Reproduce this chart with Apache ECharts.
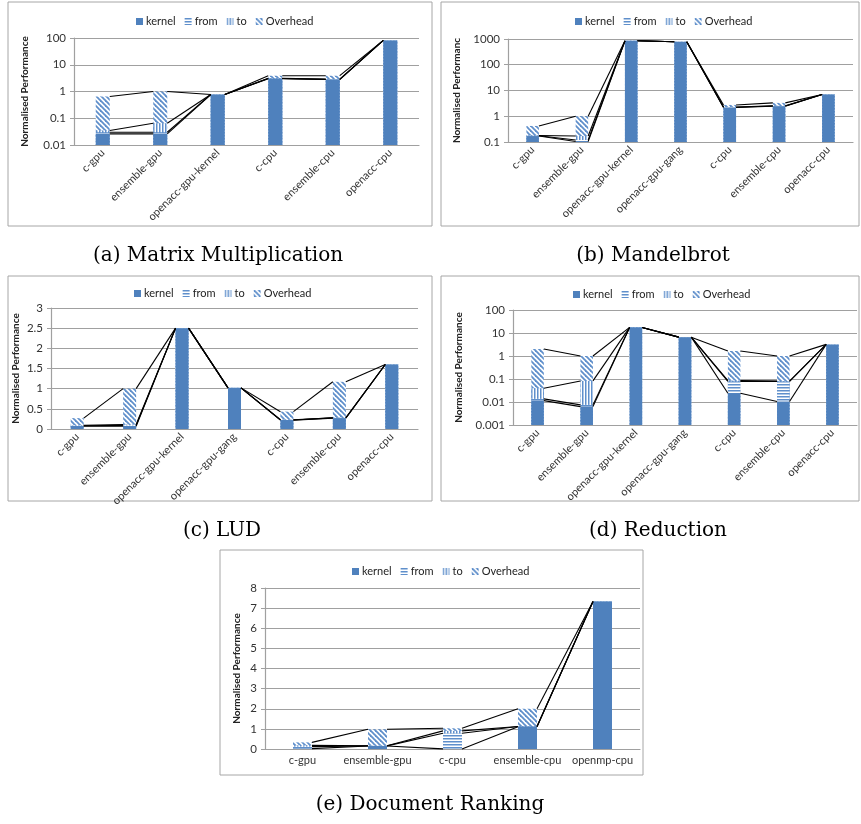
<!DOCTYPE html>
<html>
<head>
<meta charset="utf-8">
<script src="https://cdn.jsdelivr.net/npm/echarts@6/dist/echarts.min.js"></script>
<style>
  html, body { margin: 0; padding: 0; background: #fff; }
  #chart { width: 861px; height: 824px; }
</style>
</head>
<body>
<div id="chart"></div>
<script>
  // categories
  const catsA = ['c-gpu', 'ensemble-gpu', 'openacc-gpu-kernel', 'c-cpu', 'ensemble-cpu', 'openacc-cpu'];
  const catsB = ['c-gpu', 'ensemble-gpu', 'openacc-gpu-kernel', 'openacc-gpu-gang', 'c-cpu', 'ensemble-cpu', 'openacc-cpu'];
  const catsE = ['c-gpu', 'ensemble-gpu', 'c-cpu', 'ensemble-cpu', 'openmp-cpu'];
  const legendNames = ['kernel', 'from', 'to', 'Overhead'];

  // (a) Matrix Multiplication
  const kernelA = [0.026, 0.026, 0.77, 3.0, 2.8, 81];
  const fromA = [0.004, 0.004, 0, 0.05, 0.05, 0];
  const toA = [0.005, 0.035, 0, 0.05, 0.05, 0];
  const overheadA = [0.615, 0.935, 0, 0.8, 1.0, 0];

  // (b) Mandelbrot
  const kernelB = [0.17, 0.105, 850, 780, 2.2, 2.45, 7.0];
  const fromB = [0.005, 0.015, 0, 0, 0.05, 0.05, 0];
  const toB = [0.005, 0.05, 0, 0, 0.05, 0.05, 0];
  const overheadB = [0.24, 0.83, 0, 0, 0.45, 0.75, 0];

  // (c) LUD
  const kernelC = [0.07, 0.07, 2.5, 1.02, 0.22, 0.27, 1.6];
  const fromC = [0.01, 0.02, 0, 0, 0.005, 0.005, 0];
  const toC = [0.01, 0.02, 0, 0, 0.005, 0.005, 0];
  const overheadC = [0.18, 0.89, 0, 0, 0.2, 0.89, 0];

  // (d) Reduction
  const kernelD = [0.0115, 0.0063, 17.5, 6.6, 0.024, 0.0105, 3.2];
  const fromD = [0.0022, 0.0012, 0, 0, 0.055, 0.068, 0];
  const toD = [0.026, 0.075, 0, 0, 0.006, 0.002, 0];
  const overheadD = [1.96, 0.917, 0, 0, 1.565, 0.92, 0];

  // (e) Document Ranking
  const kernelE = [0.02, 0.15, 0.005, 1.11, 7.33];
  const fromE = [0.1, 0.005, 0.775, 0.005, 0];
  const toE = [0.06, 0.005, 0.12, 0.005, 0];
  const overheadE = [0.15, 0.82, 0.13, 0.88, 0];

  const BLUE = '#4F81BD';
  const STRIPE = '#5F8FCB';
  const FONT = 'Lato, "Open Sans", sans-serif';

  // 填充图案: 横线 / 竖线 / 斜线
  function pattern(kind) {
    const s = kind === 'diag' ? 5 : 3;
    const c = document.createElement('canvas');
    c.width = s; c.height = s;
    const g = c.getContext('2d');
    g.fillStyle = '#fff';
    g.fillRect(0, 0, s, s);
    g.fillStyle = STRIPE;
    g.strokeStyle = STRIPE;
    if (kind === 'h') g.fillRect(0, 0, s, 1.5);
    else if (kind === 'v') g.fillRect(0, 0, 1.5, s);
    else {
      g.lineWidth = 1.8;
      for (let k = -1; k <= 1; k++) {
        g.beginPath();
        g.moveTo(k * s - 1, -1);
        g.lineTo(k * s + s + 1, s + 1);
        g.stroke();
      }
    }
    return { image: c, repeat: 'repeat' };
  }
  const fills = [BLUE, pattern('h'), pattern('v'), pattern('diag')];

  function cumulate(parts) {
    const out = [];
    let run = parts[0].map(() => 0);
    parts.forEach(p => {
      run = run.map((v, i) => v + p[i]);
      out.push(run.slice());
    });
    return out;
  }

  const panels = [
    { cats: catsA, parts: [kernelA, fromA, toA, overheadA], log: true, min: 0.01, max: 100,
      grid: { left: 74, top: 38, width: 345, height: 107 }, barW: 14, rotate: 45,
      name: 'Normalised Performance', nameGap: 44, legend: { left: 131, top: 11 },
      box: [8, 2, 424, 224], caption: '(a) Matrix Multiplication', cap: [218, 256] },
    { cats: catsB, parts: [kernelB, fromB, toB, overheadB], log: true, min: 0.1, max: 1000,
      grid: { left: 508, top: 39, width: 345, height: 103 }, barW: 12.5, rotate: 45,
      name: 'Normalised Performanc', nameGap: 46, legend: { left: 570, top: 11 },
      box: [441, 2, 418, 224], caption: '(b) Mandelbrot', cap: [653, 256] },
    { cats: catsB, parts: [kernelC, fromC, toC, overheadC], log: false, min: 0, max: 3, interval: 0.5,
      grid: { left: 51, top: 308, width: 367, height: 121 }, barW: 13, rotate: 45,
      name: 'Normalised Performance', nameGap: 30, legend: { left: 129, top: 283 },
      box: [8, 276, 424, 225], caption: '(c) LUD', cap: [222, 531] },
    { cats: catsB, parts: [kernelD, fromD, toD, overheadD], log: true, min: 0.001, max: 100,
      grid: { left: 513, top: 310, width: 344, height: 115 }, barW: 12.5, rotate: 45,
      name: 'Normalised Performance', nameGap: 49, legend: { left: 568, top: 284 },
      box: [441, 276, 418, 225], caption: '(d) Reduction', cap: [658, 531] },
    { cats: catsE, parts: [kernelE, fromE, toE, overheadE], log: false, min: 0, max: 8, interval: 1,
      grid: { left: 265, top: 588, width: 375, height: 161 }, barW: 19, rotate: 0,
      name: 'Normalised Performance', nameGap: 23, legend: { left: 347, top: 561 },
      box: [220, 550, 423, 225], caption: '(e) Document Ranking', cap: [430, 805] }
  ];

  const grids = [], xAxes = [], yAxes = [], legends = [], series = [], graphics = [];

  panels.forEach((p, gi) => {
    const cums = cumulate(p.parts);
    grids.push(p.grid);
    xAxes.push({
      type: 'category', gridIndex: gi, data: p.cats,
      axisTick: { show: false },
      axisLine: { lineStyle: { color: '#A0A0A0', width: 1.2 } },
      axisLabel: { rotate: p.rotate, fontSize: 11, color: '#333', fontFamily: FONT, margin: 6, interval: 0 }
    });
    yAxes.push({
      type: p.log ? 'log' : 'value', logBase: 10, gridIndex: gi,
      min: p.min, max: p.max, interval: p.interval, startValue: p.min,
      name: p.name, nameLocation: 'middle', nameGap: p.nameGap,
      nameTextStyle: { fontSize: 10, fontWeight: 'bold', color: '#222', fontFamily: FONT },
      axisLine: { show: true, lineStyle: { color: '#A0A0A0', width: 1.2 } },
      axisTick: { show: true, length: 4, lineStyle: { color: '#A0A0A0' } },
      splitLine: { lineStyle: { color: '#A0A0A0', width: 1.2 } },
      axisLabel: {
        fontSize: 11.5, color: '#333', fontFamily: FONT, margin: 8,
        formatter: v => String(+(+v).toPrecision(6))
      }
    });
    legends.push({
      left: p.legend.left, top: p.legend.top, data: legendNames,
      icon: 'rect', itemWidth: 7, itemHeight: 7, itemGap: 9,
      textStyle: { fontSize: 11, color: '#222', fontFamily: FONT, padding: [0, 0, 0, -2] }
    });
    // 叠加柱: 从后往前画累计值
    for (let k = 3; k >= 0; k--) {
      series.push({
        name: legendNames[k], type: 'bar', xAxisIndex: gi, yAxisIndex: gi,
        data: cums[k], barWidth: p.barW, barGap: '-100%',
        itemStyle: { color: fills[k] }, silent: true, animation: false
      });
    }
    // 系列线
    const lineData = p.cats.slice(0, -1).map((c, i) => [i, cums[3][i]]);
    series.push({
      type: 'custom', xAxisIndex: gi, yAxisIndex: gi, data: lineData, z: 10,
      silent: true, animation: false, clip: false,
      renderItem(params, api) {
        const i = api.value(0);
        const half = p.barW / 2;
        return {
          type: 'group',
          children: cums.map(c => {
            const p1 = api.coord([i, c[i]]);
            const p2 = api.coord([i + 1, c[i + 1]]);
            return {
              type: 'line',
              shape: { x1: p1[0] + half, y1: p1[1], x2: p2[0] - half, y2: p2[1] },
              style: { stroke: '#000', lineWidth: 1.1 }
            };
          })
        };
      }
    });
    graphics.push({
      type: 'rect', shape: { x: p.box[0], y: p.box[1], width: p.box[2], height: p.box[3] },
      style: { fill: 'none', stroke: '#A6A6A6', lineWidth: 1 }, silent: true, z: -1
    });
    graphics.push({
      type: 'text', x: p.cap[0], y: p.cap[1],
      style: { text: p.caption, font: '20px "DejaVu Serif", serif', fill: '#000',
        textAlign: 'center', textVerticalAlign: 'middle' }, silent: true
    });
  });

  let chart = echarts.init(document.getElementById('chart'));
  chart.setOption({
    animation: false,
    grid: grids,
    xAxis: xAxes,
    yAxis: yAxes,
    legend: legends,
    series: series,
    graphic: graphics
  });
</script>
</body>
</html>
